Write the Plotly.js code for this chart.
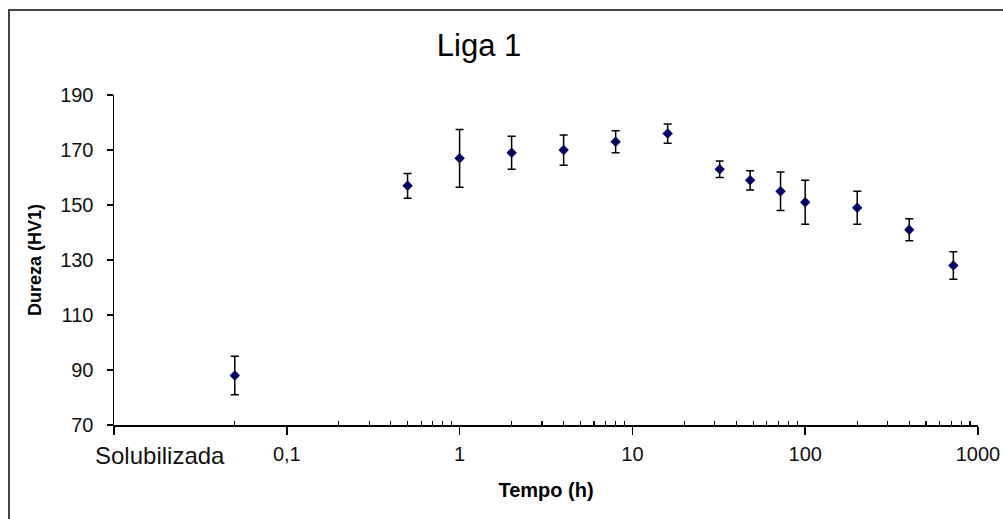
<!DOCTYPE html>
<html>
<head>
<meta charset="utf-8">
<script src="https://cdn.plot.ly/plotly-3.0.1.min.js"></script>
<style>
  html, body { margin: 0; padding: 0; background: #fff; }
  #chart { width: 1003px; height: 519px; position: absolute; left: 0; top: 0; }
  #frame { position: absolute; left: 8px; top: 9px; width: 1100px; height: 600px;
           border-left: 2px solid #444; border-top: 2px solid #444; pointer-events: none; }
</style>
</head>
<body>
<div id="chart"></div>
<div id="frame"></div>
<script>
// Data
const tempoH   = [0.05, 0.5, 1, 2, 4, 8, 16, 32, 48, 72, 100, 200, 400, 720]; // 0.05 = "Solubilizada"
const dureza   = [88, 157, 167, 169, 170, 173, 176, 163, 159, 155, 151, 149, 141, 128];
const erro     = [7, 4.5, 10.5, 6, 5.5, 4, 3.5, 3, 3.5, 7, 8, 6, 4, 5];

const xTickVals  = [0.01, 0.1, 1, 10, 100, 1000];
const xTickText  = ['', '0,1', '1', '10', '100', '1000'];
const xMinorVals = [0.05,
  0.2, 0.3, 0.4, 0.5, 0.6, 0.7, 0.8, 0.9,
  2, 3, 4, 5, 6, 7, 8, 9,
  20, 30, 40, 50, 60, 70, 80, 90,
  200, 300, 400, 500, 600, 700, 800, 900];
const yTickVals  = [70, 90, 110, 130, 150, 170, 190];

const FONT = 'Liberation Sans, Arial, sans-serif';

const trace = {
  type: 'scatter',
  mode: 'markers',
  x: tempoH,
  y: dureza,
  marker: { symbol: 'diamond', size: 8, color: '#000060' },
  error_y: { type: 'data', array: erro, visible: true, color: '#000', thickness: 1.5, width: 4 },
  hoverinfo: 'x+y'
};

const layout = {
  width: 1003, height: 519,
  margin: { l: 114, r: 25, t: 95, b: 94 },
  paper_bgcolor: '#fff', plot_bgcolor: '#fff',
  showlegend: false,
  font: { family: FONT, color: '#111' },
  title: {
    text: 'Liga 1',
    font: { family: FONT, size: 31, color: '#000' },
    xref: 'paper', x: 0.4225, xanchor: 'center',
    yref: 'container', y: 1 - 45 / 519, yanchor: 'middle'
  },
  xaxis: {
    type: 'log',
    range: [-2, 3],
    tickmode: 'array', tickvals: xTickVals, ticktext: xTickText,
    ticks: 'outside', ticklen: 8, tickwidth: 1.5, tickcolor: '#000',
    ticklabelstandoff: 2,
    tickfont: { family: FONT, size: 20, color: '#111' },
    minor: { tickmode: 'array', tickvals: xMinorVals, ticks: 'inside', ticklen: 4, tickwidth: 1.2, tickcolor: '#000', showgrid: false },
    showline: true, linecolor: '#000', linewidth: 1.5,
    showgrid: false, zeroline: false,
    title: { text: '<b>Tempo (h)</b>', font: { family: FONT, size: 20, color: '#000' }, standoff: 19 }
  },
  xaxis2: {
    type: 'log', range: [-2, 3], overlaying: 'x', anchor: 'y', side: 'bottom',
    tickmode: 'array', tickvals: xTickVals,
    ticks: 'inside', ticklen: 5, tickwidth: 1.5, tickcolor: '#000',
    showticklabels: false, showline: false, showgrid: false, zeroline: false
  },
  yaxis: {
    range: [70, 190],
    tickmode: 'array', tickvals: yTickVals,
    ticks: 'outside', ticklen: 6, tickwidth: 1.5, tickcolor: '#000',
    ticklabelstandoff: 9,
    tickfont: { family: FONT, size: 20, color: '#111' },
    showline: true, linecolor: '#000', linewidth: 1.5,
    showgrid: false, zeroline: false,
    title: { text: '<b>Dureza (HV1)</b>', font: { family: FONT, size: 18, color: '#000' }, standoff: 14 }
  },
  annotations: [{
    text: 'Solubilizada',
    xref: 'paper', yref: 'paper',
    x: (160 - 114) / 864, y: -(455 - 425) / 330,
    xanchor: 'center', yanchor: 'middle',
    showarrow: false,
    font: { family: FONT, size: 24, color: '#111' }
  }]
};

Plotly.newPlot('chart', [trace], layout, { displayModeBar: false, staticPlot: true });
</script>
</body>
</html>
